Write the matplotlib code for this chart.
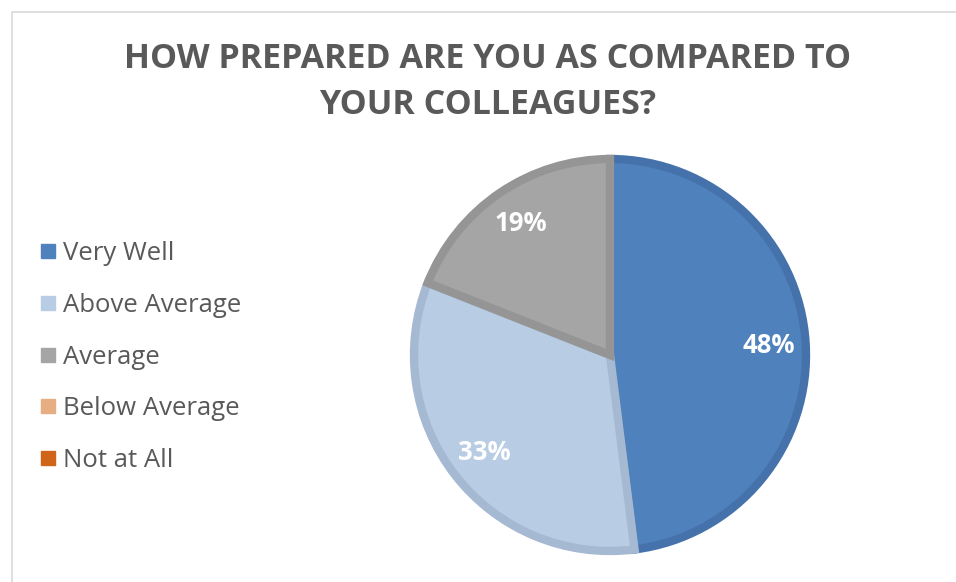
import matplotlib.pyplot as plt
from matplotlib.lines import Line2D
from matplotlib.patches import Rectangle

title = 'HOW PREPARED ARE YOU AS COMPARED TO\nYOUR COLLEAGUES?'
categories = ['Very Well', 'Above Average', 'Average', 'Below Average', 'Not at All']
shares = [48, 33, 19, 0, 0]
fills = ['#4F81BD', '#B8CCE4', '#A5A5A5', '#E6AE82', '#D0651A']
edges = ['#4572AB', '#A6B9D2', '#959595', '#D09C74', '#BB5B17']

W, H = 956, 582
fig = plt.figure(figsize=(W / 100, H / 100), dpi=100)

# thin grey frame of the chart area (cropped on the right and bottom)
fig.patches.append(Rectangle((12 / W, -0.1), 1.2, (H - 12) / H + 0.1,
                             transform=fig.transFigure, fill=False,
                             edgecolor='#D9D9D9', linewidth=1.2))

fig.text(488 / W, 1 - 82 / H, title, ha='center', va='center',
         fontsize=24.5, fontweight='bold', color='#595959',
         family='Open Sans', linespacing=1.45)

# pie: centre (610, 355) px, radius 200 px
cx, cy, R = 610, 355, 200
box = 1.05
ax = fig.add_axes([(cx - R * box) / W, 1 - (cy + R * box) / H,
                   2 * R * box / W, 2 * R * box / H])

def pct(v):
    return '%d%%' % round(v) if v > 0.5 else ''

wedges, texts, autotexts = ax.pie(
    shares, colors=fills, startangle=90, counterclock=False,
    radius=0.98, autopct=pct, pctdistance=0.81,
    wedgeprops=dict(linewidth=6, joinstyle='miter'),
    textprops=dict(color='white', fontsize=18.5, fontweight='bold',
                   family='Open Sans'))
for w, e, v in zip(wedges, edges, shares):
    w.set_edgecolor(e)
    if v == 0:
        w.set_visible(False)
ax.set_xlim(-box, box)
ax.set_ylim(-box, box)
ax.set_aspect('equal')
ax.axis('off')

handles = [Line2D([], [], linestyle='none', marker='s', markersize=10.5,
                  markerfacecolor=c, markeredgecolor=c) for c in fills]
leg = fig.legend(handles, categories, loc='center left',
                 bbox_to_anchor=(17 / W, 1 - 357 / H), frameon=False,
                 handlelength=0.6, handletextpad=0.3, labelspacing=1.05,
                 prop=dict(family='Open Sans', size=18.5))
for t in leg.get_texts():
    t.set_color('#595959')

fig.savefig('out.png', dpi=100)
